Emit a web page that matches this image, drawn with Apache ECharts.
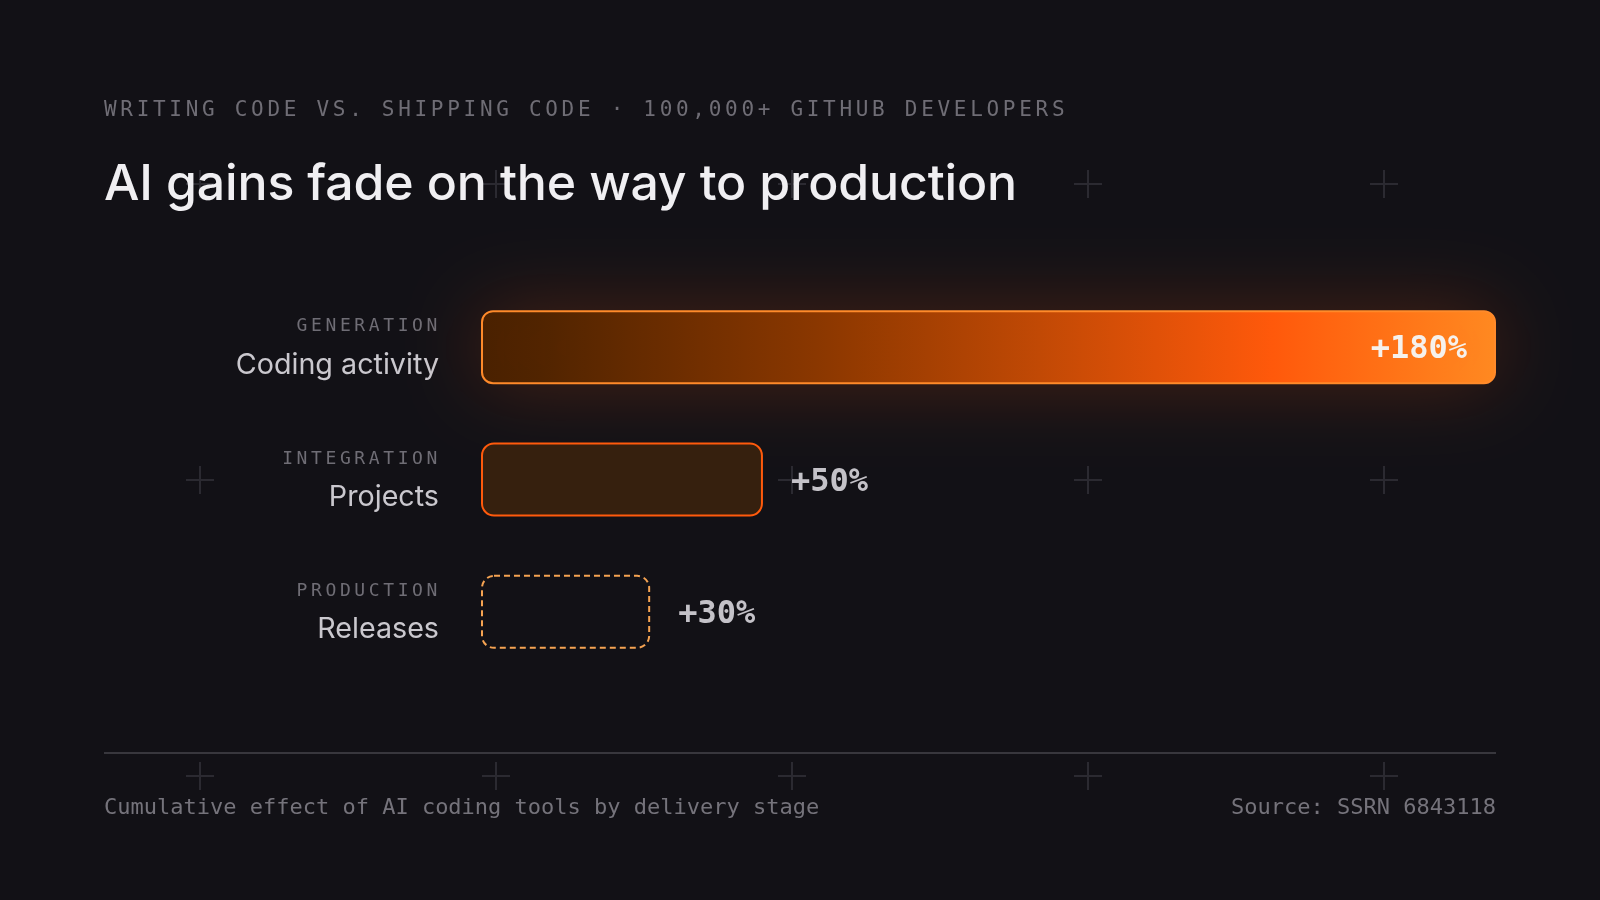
<!DOCTYPE html>
<html>
<head>
<meta charset="utf-8">
<style>
  html, body { margin: 0; padding: 0; background: #121116; }
  #chart { width: 1600px; height: 900px; }
</style>
<script src="https://cdn.jsdelivr.net/npm/echarts@6/dist/echarts.min.js"></script>
</head>
<body>
<div id="chart"></div>
<script>
// ---------- data ----------
const stages = ['GENERATION', 'INTEGRATION', 'PRODUCTION'];
const metrics = ['Coding activity', 'Projects', 'Releases'];
const gains = [180, 50, 30];
const axisMax = 180;

const eyebrowText = 'WRITING CODE VS. SHIPPING CODE \u00b7 100,000+ GITHUB DEVELOPERS';
const titleText = 'AI gains fade on the way to production';
const footnoteText = 'Cumulative effect of AI coding tools by delivery stage';
const sourceText = 'Source: SSRN 6843118';

// ---------- letter-spacing for tracked captions ----------
(function () {
  const rules = [
    { re: /(^|\s)21px\s.*Mono/, px: 3.7 },
    { re: /(^|\s)18px\s.*Mono/, px: 3.6 },
    { re: /(^|\s)50px\s.*Inter/, px: -0.15 }
  ];
  const proto = CanvasRenderingContext2D.prototype;
  const orig = proto.fillText;
  proto.fillText = function (t, x, y, mw) {
    let ls = 0;
    for (const r of rules) { if (r.re.test(this.font)) { ls = r.px; break; } }
    if ('letterSpacing' in this) this.letterSpacing = ls + 'px';
    if (ls > 0 && (this.textAlign === 'right' || this.textAlign === 'end')) x += ls * 0.55;
    return mw === undefined ? orig.call(this, t, x, y) : orig.call(this, t, x, y, mw);
  };
})();

const MONO = "'DejaVu Sans Mono', monospace";
const SANS = "Inter, 'Noto Sans', sans-serif";

// ---------- decorative crosses ----------
const crossXs = [200, 496, 792, 1088, 1384];
const crossYs = [184, 480, 776];
const crosses = [];
crossYs.forEach(cy => crossXs.forEach(cx => {
  crosses.push({
    type: 'group', x: cx, y: cy, z: 0, silent: true,
    children: [
      { type: 'line', shape: { x1: -14, y1: 0, x2: 14, y2: 0 }, style: { stroke: '#2b2a31', lineWidth: 2 } },
      { type: 'line', shape: { x1: 0, y1: -14, x2: 0, y2: 14 }, style: { stroke: '#2b2a31', lineWidth: 2 } }
    ]
  });
}));

const barStyles = [
  {
    color: new echarts.graphic.LinearGradient(0, 0, 1, 0, [
      { offset: 0, color: '#4a2200' },
      { offset: 0.06, color: '#512500' },
      { offset: 0.33, color: '#8a3800' },
      { offset: 0.55, color: '#c14a06' },
      { offset: 0.78, color: '#ff5a0c' },
      { offset: 1, color: '#ff8a22' }
    ]),
    borderColor: '#ff8a2a', borderWidth: 2, borderRadius: 11,
    shadowBlur: 80, shadowColor: 'rgba(255,100,20,0.24)'
  },
  { color: '#36200e', borderColor: '#ff5a0c', borderWidth: 2, borderRadius: 12 },
  { color: 'rgba(0,0,0,0)', borderColor: '#f5a352', borderWidth: 2, borderRadius: 12,
    borderType: [6, 4] }
];
const labelStyles = [
  { position: 'insideRight', distance: 29, color: '#f6f1ec' },
  { position: 'right', distance: 28, color: '#c4c2c8' },
  { position: 'right', distance: 28, color: '#c4c2c8' }
];

const seriesData = gains.map((v, i) => ({
  value: v,
  itemStyle: barStyles[i],
  label: Object.assign({ show: true, fontFamily: MONO, fontWeight: 'bold', fontSize: 32,
    offset: [0, 3], formatter: '+{c}%' }, labelStyles[i])
}));

const chart = echarts.init(document.getElementById('chart'), null, { renderer: 'canvas' });
chart.setOption({
  backgroundColor: '#121116',
  animation: false,
  grid: { left: 481, right: 104, top: 281, bottom: 222, containLabel: false },
  xAxis: { type: 'value', min: 0, max: axisMax, show: false },
  yAxis: {
    type: 'category', inverse: true, data: stages.map((s, i) => s + '|' + metrics[i]),
    axisLine: { show: false }, axisTick: { show: false }, splitLine: { show: false },
    axisLabel: {
      margin: 42,
      formatter: v => { const p = v.split('|'); return '{s|' + p[0] + '}\n{n|' + p[1] + '}'; },
      rich: {
        s: { fontFamily: MONO, fontSize: 18, color: '#6f6d75', lineHeight: 36, align: 'right' },
        n: { fontFamily: SANS, fontSize: 28.7, color: '#cac8ce', lineHeight: 41, align: 'right' }
      }
    }
  },
  series: [{
    type: 'bar', barWidth: 74, z: 3, data: seriesData
  }],
  graphic: crosses.concat([
    { type: 'text', x: 104, y: 111, z: 5, silent: true,
      style: { text: eyebrowText, font: '21px ' + MONO, fill: '#6f6d75', verticalAlign: 'middle' } },
    { type: 'text', x: 104, y: 185, z: 5, silent: true,
      style: { text: titleText, font: '500 50px ' + SANS, fill: '#f0eff2', verticalAlign: 'middle' } },
    { type: 'line', z: 5, silent: true, shape: { x1: 104, y1: 753, x2: 1496, y2: 753 },
      style: { stroke: '#38373d', lineWidth: 2 } },
    { type: 'text', x: 104, y: 808, z: 5, silent: true,
      style: { text: footnoteText, font: '22px ' + MONO, fill: '#75737b', verticalAlign: 'middle' } },
    { type: 'text', x: 1496, y: 808, z: 5, silent: true,
      style: { text: sourceText, font: '22px ' + MONO, fill: '#75737b', align: 'right', verticalAlign: 'middle' } }
  ])
});
</script>
</body>
</html>
